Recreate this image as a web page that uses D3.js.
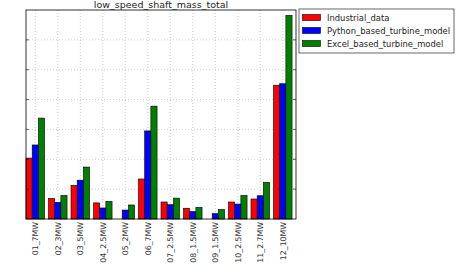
<!DOCTYPE html>
<html>
<head>
<meta charset="utf-8">
<script src="https://cdn.jsdelivr.net/npm/d3@7"></script>
<style>
  body { margin: 0; background: #fff; }
  text { font-family: "DejaVu Sans", sans-serif; }
</style>
</head>
<body>
<script>
// data (units = one gridline step)
var categories = ["01_7MW", "02_3MW", "03_5MW", "04_2.5MW", "05_2MW", "06_7MW",
                  "07_2.5MW", "08_1.5MW", "09_1.5MW", "10_2.5MW", "11_2.7MW", "12_10MW"];
var industrial = [2.04, 0.69, 1.13, 0.54, 0, 1.34, 0.57, 0.36, 0, 0.57, 0.67, 4.48];
var python     = [2.48, 0.56, 1.30, 0.37, 0.30, 2.95, 0.48, 0.25, 0.18, 0.50, 0.78, 4.53];
var excel      = [3.38, 0.79, 1.74, 0.59, 0.47, 3.78, 0.70, 0.39, 0.32, 0.79, 1.23, 6.82];
var seriesNames = ["Industrial_data", "Python_based_turbine_model", "Excel_based_turbine_model"];
var seriesColors = ["#ff0000", "#0000ff", "#008000"];
var yTicks = [0, 1, 2, 3, 4, 5, 6, 7];

var W = 457, H = 273;
var plotL = 26, plotR = 296, plotT = 10, plotB = 219;
var barW = 0.275;

var svg = d3.select("body").append("svg")
    .attr("width", W)
    .attr("height", H);

var x = d3.scaleLinear().domain([0, categories.length]).range([plotL, plotR]);
var y = d3.scaleLinear().domain([0, 7]).range([plotB, plotT]);

// grid
var grid = svg.append("g");
grid.selectAll("vline")
    .data(categories)
    .enter()
    .append("line")
    .attr("x1", function(d, i) { return x(i + 1.5 * barW); })
    .attr("x2", function(d, i) { return x(i + 1.5 * barW); })
    .attr("y1", plotT).attr("y2", plotB)
    .style("stroke", "#b0b0b0")
    .style("stroke-width", 0.6)
    .style("stroke-dasharray", "1,2");
grid.selectAll("hline")
    .data(yTicks.slice(1, -1))
    .enter()
    .append("line")
    .attr("x1", plotL).attr("x2", plotR)
    .attr("y1", function(d) { return y(d); })
    .attr("y2", function(d) { return y(d); })
    .style("stroke", "#b0b0b0")
    .style("stroke-width", 0.6)
    .style("stroke-dasharray", "1,2");

// bars
var allSeries = [industrial, python, excel];
allSeries.forEach(function(vals, s) {
    svg.append("g").selectAll("rect")
        .data(vals)
        .enter()
        .append("rect")
        .attr("x", function(d, i) { return x(i + s * barW); })
        .attr("width", x(barW) - x(0))
        .attr("y", function(d) { return y(d); })
        .attr("height", function(d) { return y(0) - y(d); })
        .style("fill", seriesColors[s])
        .style("stroke", "#000")
        .style("stroke-width", 0.6);
});

// frame
svg.append("rect")
    .attr("x", plotL).attr("y", plotT)
    .attr("width", plotR - plotL).attr("height", plotB - plotT)
    .style("fill", "none")
    .style("stroke", "#000")
    .style("stroke-width", 0.8);

// y ticks (inward, no labels)
svg.append("g").selectAll("line")
    .data(yTicks.slice(1, -1))
    .enter()
    .append("line")
    .attr("x1", plotL).attr("x2", plotL + 3)
    .attr("y1", function(d) { return y(d); })
    .attr("y2", function(d) { return y(d); })
    .style("stroke", "#000").style("stroke-width", 0.6);
svg.append("g").selectAll("line")
    .data(yTicks.slice(1, -1))
    .enter()
    .append("line")
    .attr("x1", plotR).attr("x2", plotR - 3)
    .attr("y1", function(d) { return y(d); })
    .attr("y2", function(d) { return y(d); })
    .style("stroke", "#000").style("stroke-width", 0.6);

// x tick labels, rotated
svg.append("g").selectAll("text")
    .data(categories)
    .enter()
    .append("text")
    .attr("transform", function(d, i) {
        return "translate(" + (x(i + 1.5 * barW) + 3) + "," + (plotB + 3) + ") rotate(-90)";
    })
    .attr("text-anchor", "end")
    .style("font-size", "7.8px")
    .style("fill", "#333")
    .text(function(d) { return d; });

// title
svg.append("text")
    .attr("x", (plotL + plotR) / 2)
    .attr("y", 8)
    .attr("text-anchor", "middle")
    .style("font-size", "9.5px")
    .style("fill", "#222")
    .text("low_speed_shaft_mass_total");

// legend
var lg = svg.append("g");
lg.append("rect")
    .attr("x", 299).attr("y", 9)
    .attr("width", 155).attr("height", 44)
    .style("fill", "#fff")
    .style("stroke", "#000")
    .style("stroke-width", 0.6);
seriesNames.forEach(function(name, i) {
    var yy = 17.5 + i * 13;
    lg.append("rect")
        .attr("x", 302.5).attr("y", yy - 3)
        .attr("width", 18).attr("height", 6)
        .style("fill", seriesColors[i])
        .style("stroke", "#000")
        .style("stroke-width", 0.6);
    lg.append("text")
        .attr("x", 327).attr("y", yy + 3)
        .style("font-size", "8.4px")
        .style("fill", "#222")
        .text(name);
});
</script>
</body>
</html>
